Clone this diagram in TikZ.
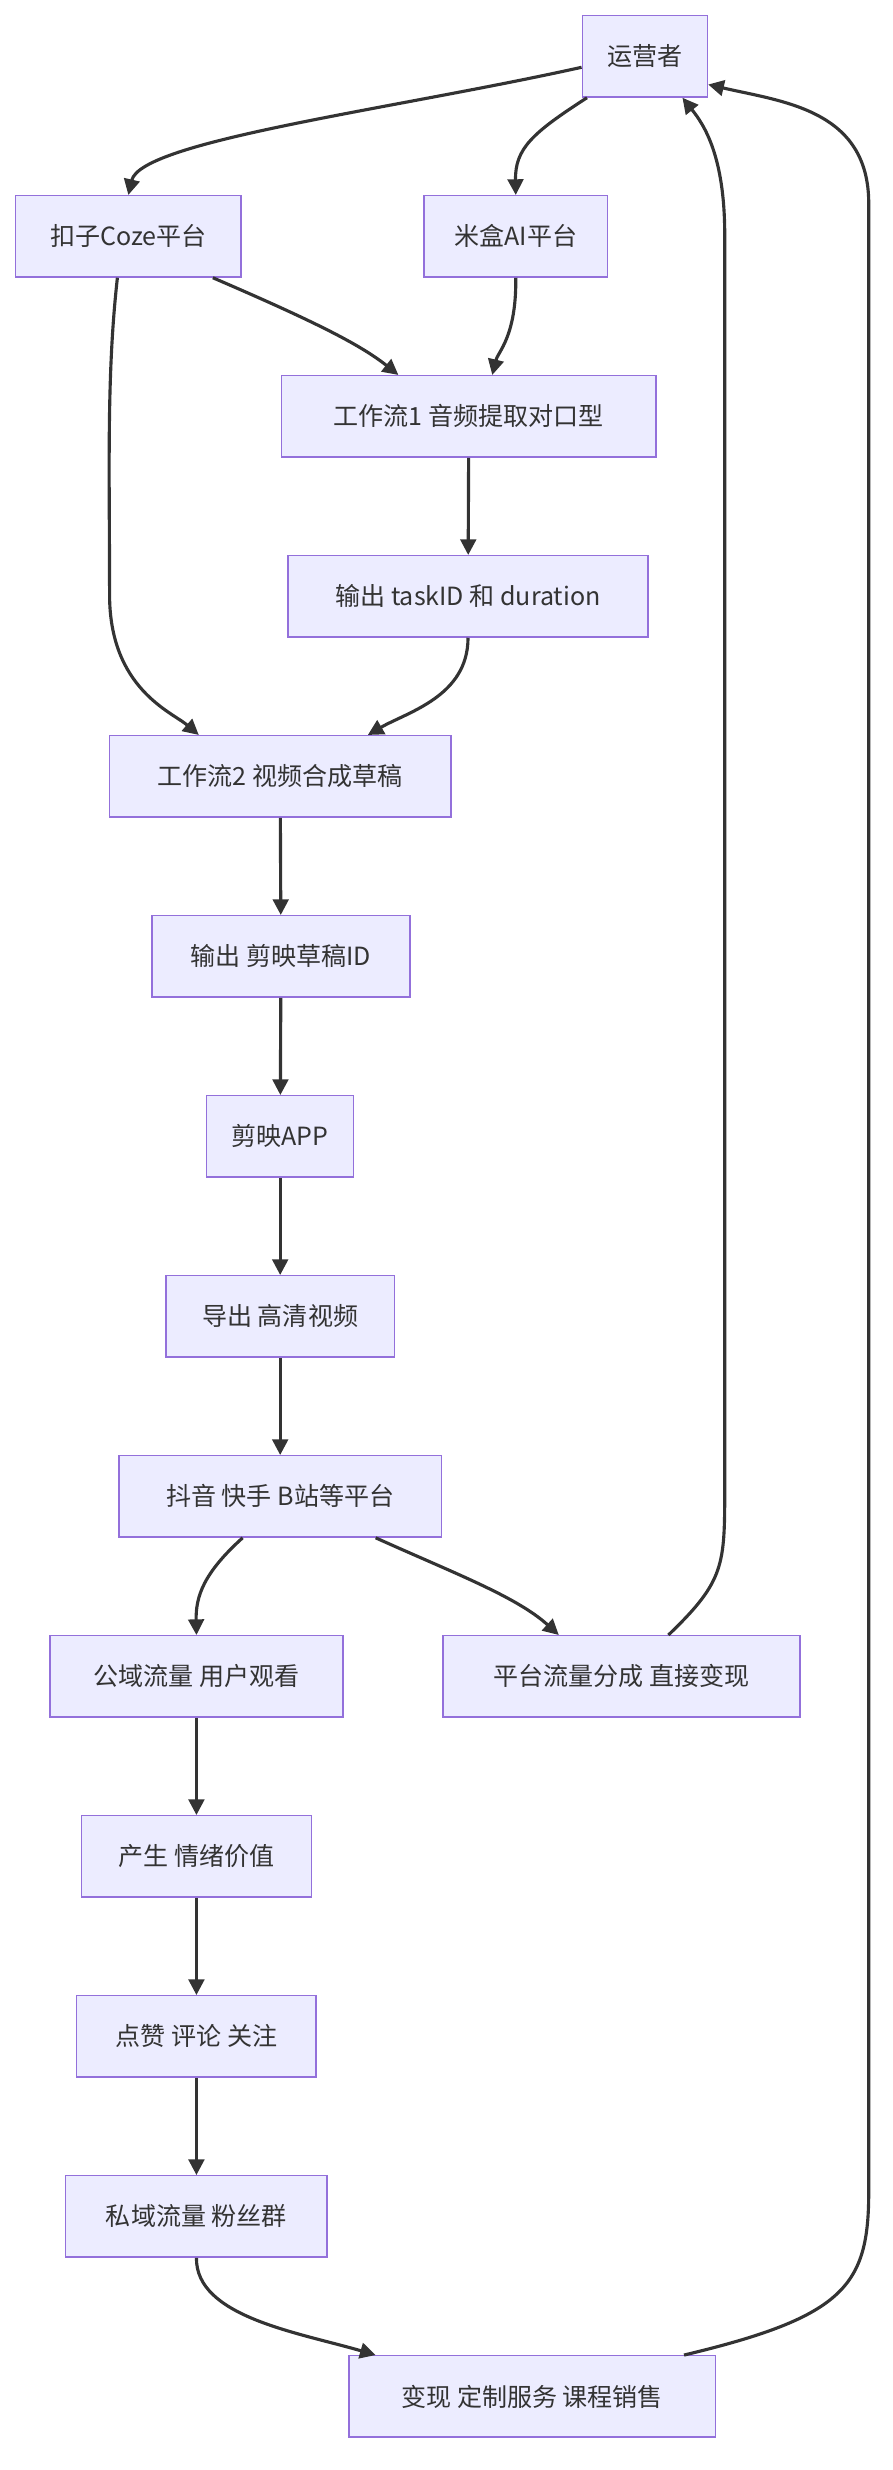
\documentclass[tikz,border=0pt]{standalone}
\usepackage{fontspec}
\setmainfont{Noto Sans CJK SC}
\usetikzlibrary{arrows.meta, positioning}
\definecolor{boxfill}{HTML}{ECECFF}
\definecolor{boxline}{HTML}{9370DB}
\definecolor{edge}{HTML}{333333}
\tikzset{
  box/.style   = {rectangle, draw=boxline, fill=boxfill, line width=0.9pt, minimum height=52pt,
                  inner sep=0pt, text=edge, font=\fontsize{16}{18}\selectfont},
  arrow/.style = {draw=edge, line width=2pt, -{Triangle[length=10pt,width=10pt]}}
}
\begin{document}
\begin{tikzpicture}[x=1pt, y=-1pt]
    \useasboundingbox (0,0) rectangle (570,1578);
    \node (ops)  at (412,   36) [box, minimum width=80pt]  {运营者};
    \node (coze) at (82,   151) [box, minimum width=144pt] {扣子Coze平台};
    \node (mihe) at (329.5,151) [box, minimum width=117pt] {米盒AI平台};
    \node (wf1)  at (299.5,266) [box, minimum width=239pt] {工作流1 音频提取对口型};
    \node (tid)  at (299,  381) [box, minimum width=230pt] {输出 taskID 和 duration};
    \node (wf2)  at (179,  496) [box, minimum width=218pt] {工作流2 视频合成草稿};
    \node (did)  at (179.5,611) [box, minimum width=165pt] {输出 剪映草稿ID};
    \node (app)  at (179,  726) [box, minimum width=94pt]  {剪映APP};
    \node (exp)  at (179,  841) [box, minimum width=146pt] {导出 高清视频};
    \node (plat) at (179,  956) [box, minimum width=206pt] {抖音 快手 B站等平台};
    \node (pub)  at (125.5,1071)[box, minimum width=187pt] {公域流量 用户观看};
    \node (shr)  at (397, 1071) [box, minimum width=228pt] {平台流量分成 直接变现};
    \node (emo)  at (125.5,1186)[box, minimum width=147pt] {产生 情绪价值};
    \node (like) at (125.5,1301)[box, minimum width=153pt] {点赞 评论 关注};
    \node (priv) at (125.5,1416)[box, minimum width=167pt] {私域流量 粉丝群};
    \node (earn) at (340, 1531) [box, minimum width=234pt] {变现 定制服务 课程销售};

    % top fan-out
    \draw [arrow] ([yshift=-7pt]ops.west) .. controls (250,70) and (90,90) .. (coze.north);
    \draw [arrow] ([xshift=-37pt]ops.south) .. controls (340,85) and (329,95) .. (mihe.north);
    \draw [arrow] ([xshift=54pt]coze.south) .. controls (200,205) and (230,220) .. ([xshift=-45pt]wf1.north);
    \draw [arrow] (mihe.south) .. controls (330,215) and (318,225) .. ([xshift=15pt]wf1.north);
    \draw [arrow] (wf1) -- (tid);
    % coze straight to workflow 2 on the left
    \draw [arrow] ([xshift=-7pt]coze.south) .. controls (68,240) and (70,300) .. (70,380)
        .. controls (70,440) and (110,455) .. ([xshift=-52pt]wf2.north);
    \draw [arrow] (tid.south) .. controls (299,445) and (260,455) .. ([xshift=56pt]wf2.north);
    % main chain
    \draw [arrow] (wf2) -- (did);
    \draw [arrow] (did) -- (app);
    \draw [arrow] (app) -- (exp);
    \draw [arrow] (exp) -- (plat);
    \draw [arrow] ([xshift=-24pt]plat.south) .. controls (130,1005) and (125,1020) .. (pub.north);
    \draw [arrow] ([xshift=61pt]plat.south) .. controls (290,1005) and (330,1020) .. ([xshift=-40pt]shr.north);
    \draw [arrow] (pub) -- (emo);
    \draw [arrow] (emo) -- (like);
    \draw [arrow] (like) -- (priv);
    \draw [arrow] (priv.south) .. controls (125,1480) and (190,1490) .. ([xshift=-100pt]earn.north);
    % loops back to the operator
    \draw [arrow] ([xshift=30pt]shr.north) .. controls (463,1010) and (463,1000) .. (463,950)
        -- (463,150) .. controls (463,100) and (450,80) .. ([xshift=24pt]ops.south);
    \draw [arrow] ([xshift=97pt]earn.north) .. controls (540,1480) and (555,1460) .. (555,1400)
        -- (555,130) .. controls (555,70) and (500,65) .. ([yshift=-18pt]ops.east);
\end{tikzpicture}
\end{document}
